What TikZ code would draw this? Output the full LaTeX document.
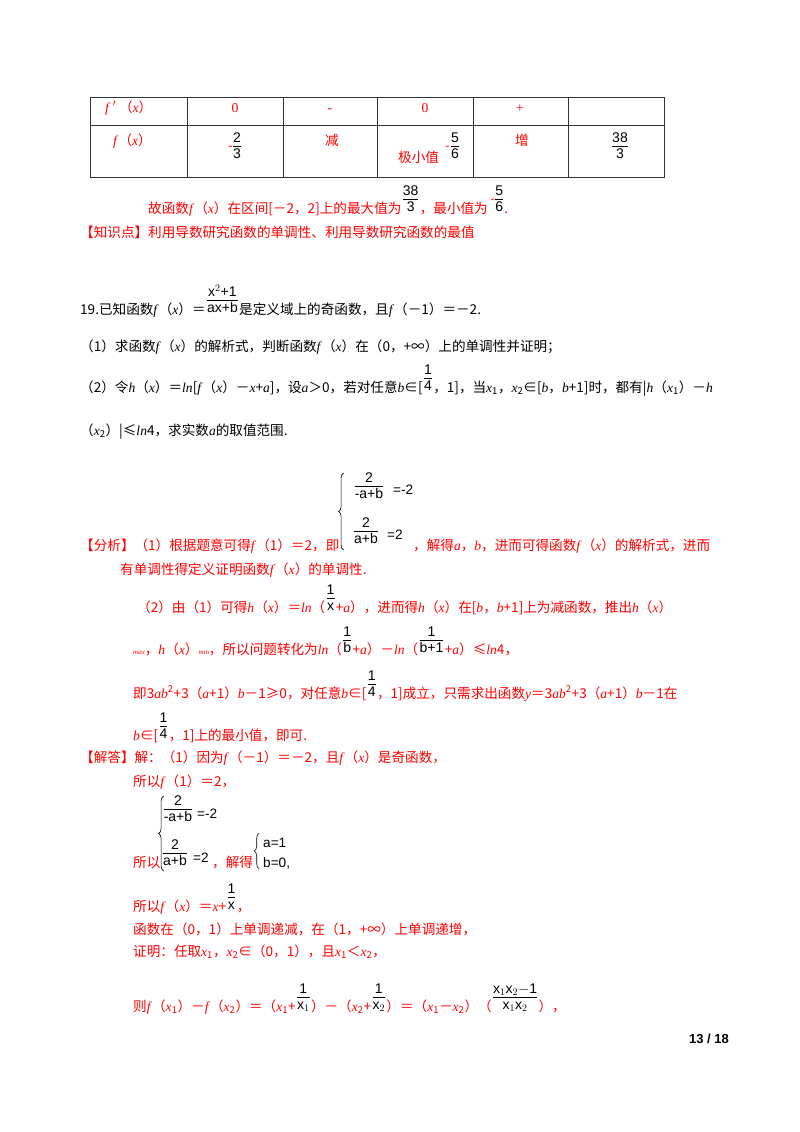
\documentclass[tikz,border=0pt]{standalone}
\usepackage{fontspec}
\setmainfont{Liberation Serif}
\newfontfamily\cjk{Noto Sans CJK SC}
\newfontfamily\sansf{Liberation Sans}
\usetikzlibrary{decorations.pathreplacing,calc}
\newcommand\m[1]{{\rmfamily\textit{#1}}}
\newcommand\n[1]{{\rmfamily #1}}
\newcommand\ftab[2]{\begin{tabular}{@{}c@{}}#1\\[-1pt]\hline\rule{0pt}{12pt}#2\end{tabular}}
% absolute fraction
\newcommand\fr[5]{\node[frac] (#1) at (#2,#3) {\ftab{#4}{#5}};}
% fraction following node #2
\newcommand\fa[4]{\node[frac,anchor=south west] (#1) at ($(#2.base east)+(1,3)$) {\ftab{#3}{#4}};}
% text following fraction #2
\newcommand\ta[3]{\node[txt] (#1) at ($(#2.south east)+(1,-3)$) {#3};}
\begin{document}
\begin{tikzpicture}[x=1pt,y=-1pt,
 txt/.style={anchor=base west,inner sep=0pt,font=\cjk\fontsize{13.6}{16}\selectfont,text=red},
 blk/.style={txt,text=black},
 frac/.style={anchor=south,inner sep=0pt,font=\sansf\fontsize{14}{15}\selectfont},
 tl/.style={line width=1pt,black!80},
 brc/.style={decorate,decoration={brace,amplitude=5pt},line width=0.6pt}]
\useasboundingbox (0,0) rectangle (800,1132);
\fill[white] (0,0) rectangle (800,1132);
% table
\draw[tl] (90,97) rectangle (664,177);
\draw[tl] (90,125) -- (664,125);
\foreach \xx in {187,283,377,473,568} \draw[tl] (\xx,97) -- (\xx,177);
\node[txt] (h1) at (105,112) {\m{f}\,\m{$'$}\ （\m{x}）};
\node[txt,anchor=base] (h2) at (235,112) {\n{0}};
\node[txt,anchor=base] (h3) at (330,112) {\n{-}};
\node[txt,anchor=base] (h4) at (425,112) {\n{0}};
\node[txt,anchor=base] (h5) at (520,112) {\n{+}};
\node[txt] (r1) at (113,145) {\m{f}（\m{x}）};
\node[txt] (m1) at (228,150) {-};
\fr{f1}{237}{163}{2}{3}
\node[txt,anchor=base] (r3) at (332,145) {减};
\node[txt] (r4) at (398,162) {极小值};
\node[txt] (m2) at (445,150) {-};
\fr{f2}{455}{163}{5}{6}
\node[txt,anchor=base] (r5) at (522,145) {增};
\fr{f3}{620}{163}{38}{3}
% conclusion
\node[txt] (c1) at (148,213) {故函数\m{f}（\m{x}）在区间[－2，2]上的最大值为};
\fa{f4}{c1}{38}{3}
\ta{c2}{f4}{，最小值为}
\node[txt] (m3) at ($(c2.base east)+(2,-10)$) {-};
\node[frac,anchor=south west] (f5) at ($(c2.base east)+(7,3)$) {\ftab{5}{6}};
\node[txt] (c3) at ($(f5.south east)+(1,-3)$) {.};
\node[txt] (k1) at (80,237) {【知识点】利用导数研究函数的单调性、利用导数研究函数的最值};
% question
\node[blk] (q1) at (80,314) {19.已知函数\m{f}（\m{x}）＝};
\fa{f6}{q1}{x$^{2}$+1}{ax+b}
\node[blk] (q2) at ($(f6.south east)+(1,-3)$) {是定义域上的奇函数，且\m{f}（－1）＝－2.};
\node[blk] (q3) at (80,351) {（1）求函数\m{f}（\m{x}）的解析式，判断函数\m{f}（\m{x}）在（0，+∞）上的单调性并证明；};
\node[blk] (q4) at (80,392) {（2）令\m{h}（\m{x}）＝\m{ln}[\m{f}（\m{x}）－\m{x}+\m{a}]，设\m{a}＞0，若对任意\m{b}∈[};
\fa{f7}{q4}{1}{4}
\node[blk] (q5) at ($(f7.south east)+(1,-3)$) {，1]，当\m{x}\textsubscript{1}，\m{x}\textsubscript{2}∈[\m{b}，\m{b}+1]时，都有|\m{h}（\m{x}\textsubscript{1}）－\m{h}};
\node[blk] (q6) at (80,435) {（\m{x}\textsubscript{2}）|≤\m{ln}4，求实数\m{a}的取值范围.};
% analysis
\node[txt] (a1) at (80,550) {【分析】（1）根据题意可得\m{f}（1）＝2，即};
\draw[brc] ($(a1.base east)+(4,0)$) -- ($(a1.base east)+(4,-77)$);
\fr{f8}{369}{503}{2}{-a+b}
\node[txt,text=black] (e1) at (393,494) {\sansf =-2};
\fr{f9}{366}{548}{2}{a+b}
\node[txt,text=black] (e2) at (387,539) {\sansf =2};
\node[txt] (a2) at (413,550) {，解得\m{a}，\m{b}，进而可得函数\m{f}（\m{x}）的解析式，进而};
\node[txt] (a3) at (120,574) {有单调性得定义证明函数\m{f}（\m{x}）的单调性.};
\node[txt] (a4) at (137,612) {（2）由（1）可得\m{h}（\m{x}）＝\m{ln}（};
\fa{f10}{a4}{1}{x}
\ta{a5}{f10}{+\m{a}），进而得\m{h}（\m{x}）在[\m{b}，\m{b}+1]上为减函数，推出\m{h}（\m{x}）}
\node[txt] (a6) at (133,654) {{\fontsize{7}{8}\selectfont\m{max}}，\m{h}（\m{x}）{\fontsize{7}{8}\selectfont\m{min}}，所以问题转化为\m{ln}（};
\fa{f11}{a6}{1}{b}
\ta{a7}{f11}{+\m{a}）－\m{ln}（}
\fa{f12}{a7}{1}{b+1}
\ta{a8}{f12}{+\m{a}）≤\m{ln}4，}
\node[txt] (a9) at (133,698) {即3\m{ab}\textsuperscript{2}+3（\m{a}+1）\m{b}－1≥0，对任意\m{b}∈[};
\fa{f13}{a9}{1}{4}
\ta{a10}{f13}{，1]成立，只需求出函数\m{y}＝3\m{ab}\textsuperscript{2}+3（\m{a}+1）\m{b}－1在}
\node[txt] (a11) at (133,740) {\m{b}∈[};
\fa{f14}{a11}{1}{4}
\ta{a12}{f14}{，1]上的最小值，即可.}
% solution
\node[txt] (s1) at (80,762) {【解答】解：（1）因为\m{f}（－1）＝－2，且\m{f}（\m{x}）是奇函数，};
\node[txt] (s2) at (133,786) {所以\m{f}（1）＝2，};
\node[txt] (s3) at (133,867) {所以};
\draw[brc] ($(s3.base east)+(3,4)$) -- ($(s3.base east)+(3,-71)$);
\fr{f15}{178}{826}{2}{-a+b}
\node[txt,text=black] (e3) at (197,818) {\sansf =-2};
\fr{f16}{175}{870}{2}{a+b}
\node[txt,text=black] (e4) at (193,862) {\sansf =2};
\node[txt] (s4) at (212,867) {，解得};
\draw[brc] ($(s4.base east)+(6,2)$) -- ($(s4.base east)+(6,-34)$);
\node[txt,text=black] (e5) at (263,847) {\sansf a=1};
\node[txt,text=black] (e6) at (263,867) {\sansf b=0,};
\node[txt] (s5) at (133,911) {所以\m{f}（\m{x}）＝\m{x}+};
\fa{f17}{s5}{1}{x}
\ta{s6}{f17}{，}
\node[txt] (s7) at (133,934) {函数在（0，1）上单调递减，在（1，+∞）上单调递增，};
\node[txt] (s8) at (133,956) {证明：任取\m{x}\textsubscript{1}，\m{x}\textsubscript{2}∈（0，1），且\m{x}\textsubscript{1}＜\m{x}\textsubscript{2}，};
\node[txt] (s9) at (133,1011) {则\m{f}（\m{x}\textsubscript{1}）－\m{f}（\m{x}\textsubscript{2}）＝（\m{x}\textsubscript{1}+};
\fa{f18}{s9}{1}{x$_1$}
\ta{s10}{f18}{）－（\m{x}\textsubscript{2}+}
\fa{f19}{s10}{1}{x$_2$}
\ta{s11}{f19}{）＝（\m{x}\textsubscript{1}－\m{x}\textsubscript{2}）（}
\fa{f20}{s11}{x$_1$x$_2$$-$1}{x$_1$x$_2$}
\ta{s12}{f20}{），}
\node[anchor=base east,inner sep=0pt,font=\sansf\bfseries\fontsize{13}{15}\selectfont] (pg) at (729,1043) {13 / 18};
\end{tikzpicture}
\end{document}
